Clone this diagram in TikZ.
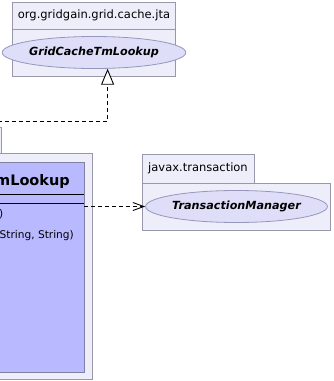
\documentclass[tikz,border=0pt]{standalone}
\usepackage{fontspec}
\setmainfont{DejaVu Sans}
\usetikzlibrary{arrows.meta,shapes.geometric,positioning}

\newcommand{\umlfont}{\fontsize{11.2}{13}\selectfont}
\newcommand{\namefont}{\fontsize{11.5}{14}\selectfont}
\newcommand{\memberfont}{\fontsize{10.6}{13}\selectfont}

\begin{document}
\begin{tikzpicture}[x=1pt, y=-1pt]
  % Colors
  \definecolor{pkgcol}{RGB}{238,238,251}
  \definecolor{pkgline}{RGB}{152,152,170}
  \definecolor{ifacecol}{RGB}{222,222,249}
  \definecolor{ifaceline}{RGB}{150,150,190}
  \definecolor{classcol}{RGB}{185,185,255}
  \definecolor{classline}{RGB}{128,128,160}
  %
  \tikzset{
    pkgshape/.style={draw=pkgline, fill=pkgcol, line width=1pt},
    pkgname/.style={inner sep=0pt, font=\namefont},
    iface/.style={ellipse, draw=ifaceline, fill=ifacecol, line width=0.8pt, inner sep=0pt,
                  minimum height=32pt, font=\umlfont\bfseries\itshape},
    classbox/.style={draw=classline, fill=classcol, line width=1pt},
    member/.style={font=\memberfont, inner sep=0pt},
    realize/.style={line width=0.9pt, dash pattern=on 4pt off 3pt,
                    -{Triangle[fill=white, length=16pt, width=13pt]}},
    depend/.style={line width=0.9pt, dash pattern=on 4pt off 3pt,
                   -{Straight Barb[length=11pt, width=8pt]}},
  }
  %
  \useasboundingbox (0,0) rectangle (333,381);
  \clip (0,0) rectangle (333,381);
  %
  %%% JTA PACKAGE %%%
  \draw[pkgshape] (12,2) rectangle (175,29);
  \draw[pkgshape] (12,29) rectangle (175,76);
  \node[pkgname] (jtaname) at (94,15.5) {org.gridgain.grid.cache.jta};
  \node[iface, minimum width=148pt] (lookup) at (94,52.5) {GridCacheTmLookup};
  %
  %%% JAVAX PACKAGE %%%
  \draw[pkgshape] (142,154) rectangle (254,183);
  \draw[pkgshape] (142,183) rectangle (330,230);
  \node[pkgname] (jxname) at (198,168.5) {javax.transaction};
  \node[iface, minimum width=173pt] (txmgr) at (236.5,206.5) {TransactionManager};
  %
  %%% REFLECT PACKAGE AND CLASS %%%
  \draw[pkgshape] (-160,127) rectangle (1,153);
  \draw[pkgshape] (-210,153) rectangle (92,379);
  \path[classbox] (-188,162) rectangle (84,372);
  \coordinate (cls) at (-52,162);
  \coordinate (clsport) at (84,206.5);
  \node[font=\fontsize{14.5}{17}\selectfont\bfseries, inner sep=0pt, anchor=base east]
    (clsname) at (70,185.5) {GridCacheReflectionTmLookup};
  \draw[line width=1pt] (-188,194) -- (84,194);
  \draw[line width=1pt] (-188,203) -- (84,203);
  \node[member, anchor=base east] (m1) at (3.5,217) {GridCacheReflectionTmLookup()};
  \node[member, anchor=base east] (m2) at (74,238) {GridCacheReflectionTmLookup(String, String)};
  %
  %%% CONNECTORS %%%
  \draw[realize] (cls) -- ++(0,-41) -| (lookup.-50);
  \draw[depend] (clsport) -- (txmgr.west);
\end{tikzpicture}
\end{document}
